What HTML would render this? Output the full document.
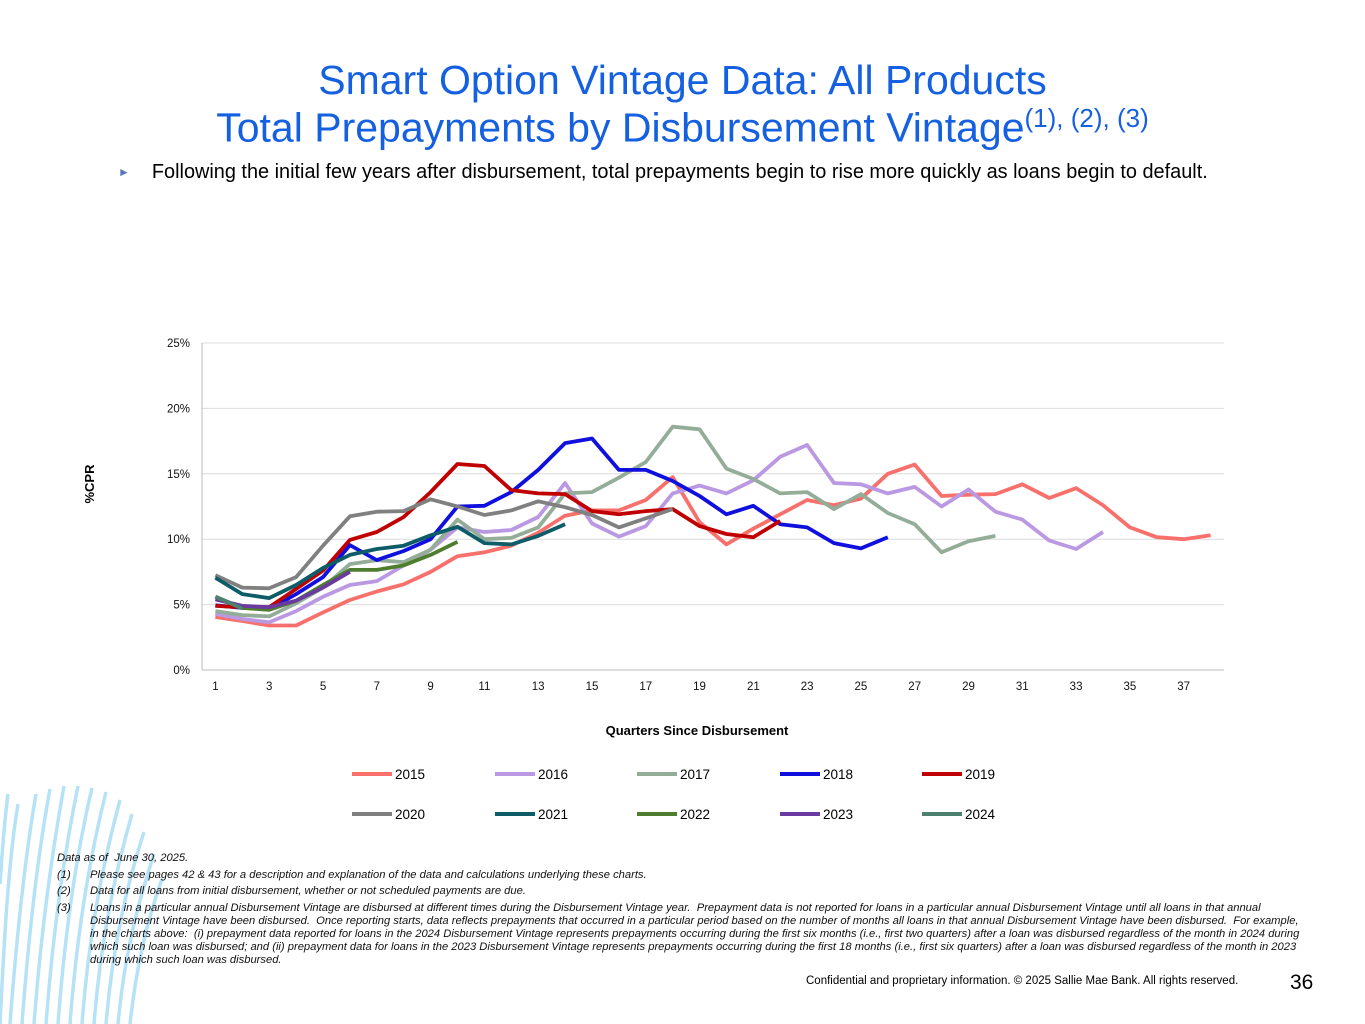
<!DOCTYPE html>
<html><head><meta charset="utf-8">
<style>
body{margin:0;width:1365px;height:1024px;background:#fff;position:relative;overflow:hidden;font-family:"Liberation Sans",Arial,sans-serif;}
.title{position:absolute;left:0;width:1365px;text-align:center;color:#1560e0;font-size:41px;line-height:47px;white-space:nowrap;}
.bullet{position:absolute;left:118px;top:161px;font-size:19.9px;color:#000;white-space:nowrap;}
.bullet span{color:#5577bb;font-size:12px;margin-right:22px;vertical-align:2px;}
.notes{position:absolute;left:57px;top:852px;font-size:11.2px;font-style:italic;color:#111;line-height:13.2px;width:1245px;}
.notes .r{display:flex;margin-bottom:3px;}
.notes .n{width:33px;flex:none;}
.foot{position:absolute;left:806px;top:975px;font-size:11.5px;white-space:nowrap;}
.pg{position:absolute;left:1290px;top:971px;font-size:21px;}
</style></head><body>
<svg width="260" height="260" style="position:absolute;left:0;top:764px" viewBox="0 0 260 260">
<g fill="none" stroke="#a9def5" stroke-width="3.5" opacity="0.85">
<path d="M0 260 C4 180 8 100 18 40"/><path d="M10 260 C16 180 24 100 36 30"/><path d="M22 260 C28 180 36 100 50 25"/><path d="M34 260 C40 180 50 100 64 22"/><path d="M46 260 C52 180 62 100 78 22"/><path d="M58 260 C64 180 74 100 92 24"/><path d="M70 260 C76 180 88 100 106 28"/><path d="M82 260 C88 180 100 110 120 36"/><path d="M94 260 C100 185 112 120 132 50"/><path d="M106 260 C112 190 124 130 144 68"/><path d="M118 260 C124 195 136 145 154 90"/><path d="M130 260 C136 205 146 160 162 115"/>
<path d="M0 120 C2 90 4 60 8 30"/>
</g></svg>
<div class="title" style="top:57px">Smart Option Vintage Data: All Products</div>
<div class="title" style="top:95px">Total Prepayments by Disbursement Vintage<sup style="font-size:26px">(1), (2), (3)</sup></div>
<div class="bullet"><span>►</span>Following the initial few years after disbursement, total prepayments begin to rise more quickly as loans begin to default.</div>
<svg id="chart" width="1365" height="850" style="position:absolute;left:0;top:0"></svg>
<div class="notes">
<div style="margin-bottom:4px">Data as of &nbsp;June 30, 2025.</div>
<div class="r"><div class="n">(1)</div><div>Please see pages 42 &amp; 43 for a description and explanation of the data and calculations underlying these charts.</div></div>
<div class="r"><div class="n">(2)</div><div>Data for all loans from initial disbursement, whether or not scheduled payments are due.</div></div>
<div class="r"><div class="n">(3)</div><div>Loans in a particular annual Disbursement Vintage are disbursed at different times during the Disbursement Vintage year. &nbsp;Prepayment data is not reported for loans in a particular annual Disbursement Vintage until all loans in that annual Disbursement Vintage have been disbursed. &nbsp;Once reporting starts, data reflects prepayments that occurred in a particular period based on the number of months all loans in that annual Disbursement Vintage have been disbursed. &nbsp;For example, in the charts above: &nbsp;(i) prepayment data reported for loans in the 2024 Disbursement Vintage represents prepayments occurring during the first six months (i.e., first two quarters) after a loan was disbursed regardless of the month in 2024 during which such loan was disbursed; and (ii) prepayment data for loans in the 2023 Disbursement Vintage represents prepayments occurring during the first 18 months (i.e., first six quarters) after a loan was disbursed regardless of the month in 2023 during which such loan was disbursed.</div></div>
</div>
<div class="foot">Confidential and proprietary information. © 2025 Sallie Mae Bank. All rights reserved.</div>
<div class="pg">36</div>
<script>
const years=["2015","2016","2017","2018","2019","2020","2021","2022","2023","2024"];
const colors=["#f7706c","#bb98e2","#93ad98","#1010de","#c00000","#808080","#0d5c68","#4e7d2e","#6b3aa0","#4e8070"];
const s2015=[4.05,3.75,3.4,3.4,4.4,5.35,6.0,6.55,7.5,8.7,9.0,9.5,10.5,11.8,12.2,12.2,13.0,14.75,11.3,9.6,10.8,11.9,13.0,12.6,13.1,15.0,15.7,13.3,13.4,13.45,14.2,13.15,13.9,12.6,10.9,10.15,10.0,10.3];
const s2016=[4.3,3.9,3.65,4.5,5.6,6.5,6.8,8.0,9.2,10.9,10.55,10.7,11.7,14.3,11.2,10.2,11.0,13.5,14.1,13.5,14.5,16.3,17.2,14.3,14.2,13.5,14.0,12.5,13.8,12.1,11.5,9.9,9.25,10.55];
const s2017=[4.5,4.2,4.1,5.1,6.3,8.1,8.4,8.25,9.2,11.5,10.0,10.1,10.9,13.5,13.6,14.7,15.9,18.6,18.4,15.4,14.6,13.5,13.6,12.3,13.45,12.0,11.15,9.0,9.85,10.25];
const s2018=[4.95,4.75,4.65,5.8,7.1,9.55,8.4,9.1,10.0,12.5,12.55,13.6,15.3,17.35,17.7,15.3,15.3,14.45,13.3,11.9,12.55,11.15,10.9,9.7,9.3,10.15];
const s2019=[4.9,4.8,4.8,6.2,7.6,9.95,10.55,11.7,13.6,15.75,15.6,13.75,13.5,13.45,12.15,11.9,12.15,12.3,11.0,10.4,10.15,11.4];
const s2020=[7.25,6.3,6.25,7.1,9.5,11.75,12.1,12.15,13.05,12.5,11.85,12.2,12.9,12.45,11.85,10.9,11.6,12.3];
const s2021=[7.05,5.8,5.5,6.5,7.8,8.8,9.25,9.5,10.3,10.95,9.7,9.6,10.25,11.15];
const s2022=[5.6,4.75,4.6,5.3,6.5,7.65,7.65,8.0,8.8,9.8];
const s2023=[5.4,4.9,4.8,5.3,6.3,7.5];
const s2024=[5.6,4.7];
const series=[s2015,s2016,s2017,s2018,s2019,s2020,s2021,s2022,s2023,s2024];
const yTicks=[0,5,10,15,20,25];
const xTicks=[1,3,5,7,9,11,13,15,17,19,21,23,25,27,29,31,33,35,37];
const NS="http://www.w3.org/2000/svg";
const svg=document.getElementById('chart');
const L=202,R=1224,T=343,B=670,N=38;
const x=q=>L+(q-0.5)*(R-L)/N;
const y=v=>B-v/25*(B-T);
function mk(t,a,txt){const e=document.createElementNS(NS,t);for(const k in a)e.setAttribute(k,a[k]);if(txt!==undefined)e.textContent=txt;svg.appendChild(e);return e;}
yTicks.forEach(v=>{
 const g=mk('line',{x1:L,x2:R,y1:y(v),y2:y(v),stroke:v===0?'#bbb':'#dcdcdc','stroke-width':1});
 
 
 const t=mk('text',{x:190,y:y(v)+4,'text-anchor':'end','font-size':11.5,fill:'#111','font-family':'Liberation Sans'},v+'%');
 
 
});
const ax=mk('line',{x1:L,x2:L,y1:T,y2:B,stroke:'#bbb','stroke-width':1});


xTicks.forEach(q=>{
 const t=mk('text',{x:x(q),y:690,'text-anchor':'middle','font-size':11.5,fill:'#111','font-family':'Liberation Sans'},q);
 
 
});
const xt=mk('text',{x:697,y:735,'text-anchor':'middle','font-size':13,'font-weight':'bold','font-family':'Liberation Sans'},'Quarters Since Disbursement');


const yt=mk('text',{x:94,y:484,'text-anchor':'middle','font-size':13,'font-weight':'bold','font-family':'Liberation Sans',transform:'rotate(-90 94 484)'},'%CPR');


series.forEach((s,i)=>{
 const pts=s.map((v,k)=>x(k+1).toFixed(1)+','+y(v).toFixed(1)).join(' ');
 const p=mk('polyline',{points:pts,fill:'none',stroke:colors[i],'stroke-width':3.8,'stroke-linejoin':'round'});
 
 
});
const lx=[352,495,637,780,922];
years.forEach((yr,i)=>{
 const r=Math.floor(i/5),c=i%5,yy=774+r*40;
 const l=mk('line',{x1:lx[c],x2:lx[c]+40,y1:yy,y2:yy,stroke:colors[i],'stroke-width':4});
 
 
 const t=mk('text',{x:lx[c]+43,y:yy+5,'font-size':13.5,'font-family':'Liberation Sans'},yr);
 
 
});
</script>
</body></html>
